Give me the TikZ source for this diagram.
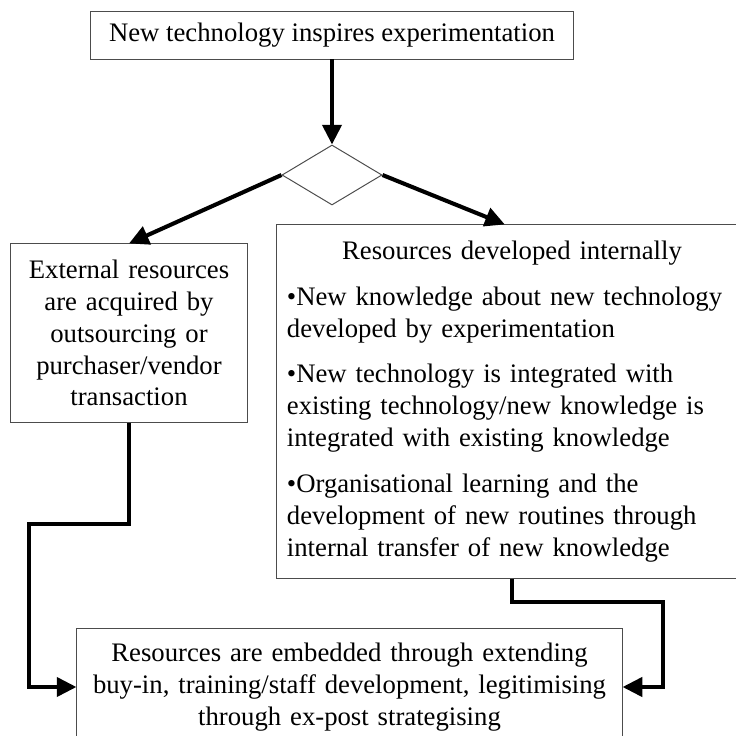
\documentclass[tikz,border=0pt]{standalone}
\usepackage{fontspec}
\setmainfont{Liberation Serif}
\usepackage{tikz}
\usetikzlibrary{shapes.geometric, arrows.meta, positioning}

\begin{document}
\begin{tikzpicture}[x=0.025cm, y=-0.025cm,
        box/.style={draw=black!70, line width=0.7pt, fill=white, inner sep=0pt,
            font=\fontsize{19}{22.7}\selectfont},
        flow/.style={line width=2.9pt, -{Triangle[length=14pt, width=13.5pt]}}]
        \clip (0, 0) rectangle (736, 736);

        % Start
        \node[box, minimum width=12.05cm, minimum height=1.2cm] (tech) at (332, 35)
            {New technology inspires experimentation};
        \node[draw=black!70, line width=0.7pt, diamond, minimum width=2.5cm,
            minimum height=1.5cm, inner sep=0pt] (choice) at (332, 175) {};

        % Two ways of getting resources
        \node[box, minimum width=5.9cm, minimum height=4.45cm, text width=5.6cm,
            align=center] (external) at (129, 333)
            {External resources\\ are acquired by\\ outsourcing or\\
             purchaser/vendor\\ transaction};
        \node[box, minimum width=11.75cm, minimum height=8.825cm, text width=11.25cm,
            align=left] (internal) at (512, 401.5)
            {\makebox[\linewidth][c]{Resources developed internally}\\[10pt]
             •New knowledge about new technology\\
             developed by experimentation\\[10pt]
             •New technology is integrated with\\
             existing technology/new knowledge is\\
             integrated with existing knowledge\\[10pt]
             •Organisational learning and the\\
             development of new routines through\\
             internal transfer of new knowledge};

        % Embedding
        \node[box, minimum width=13.625cm, minimum height=2.95cm, text width=13.2cm,
            align=center] (embed) at (349.5, 687)
            {Resources are embedded through extending\\
             buy-in, training/staff development, legitimising\\
             through ex-post strategising};

        % Arrows
        \coordinate (lbend) at (29, 524);
        \coordinate (rbend) at (663, 602);
        \draw[flow] (tech) -- (choice);
        \draw[flow] (choice.west) -- (external.north);
        \draw[flow] (choice.east) -- ([xshift=-0.18cm]internal.north);
        \draw[flow] (external.south) |- (lbend) |- (embed.west);
        \draw[flow] (internal.south) |- (rbend) |- (embed.east);
    \end{tikzpicture}
\end{document}
